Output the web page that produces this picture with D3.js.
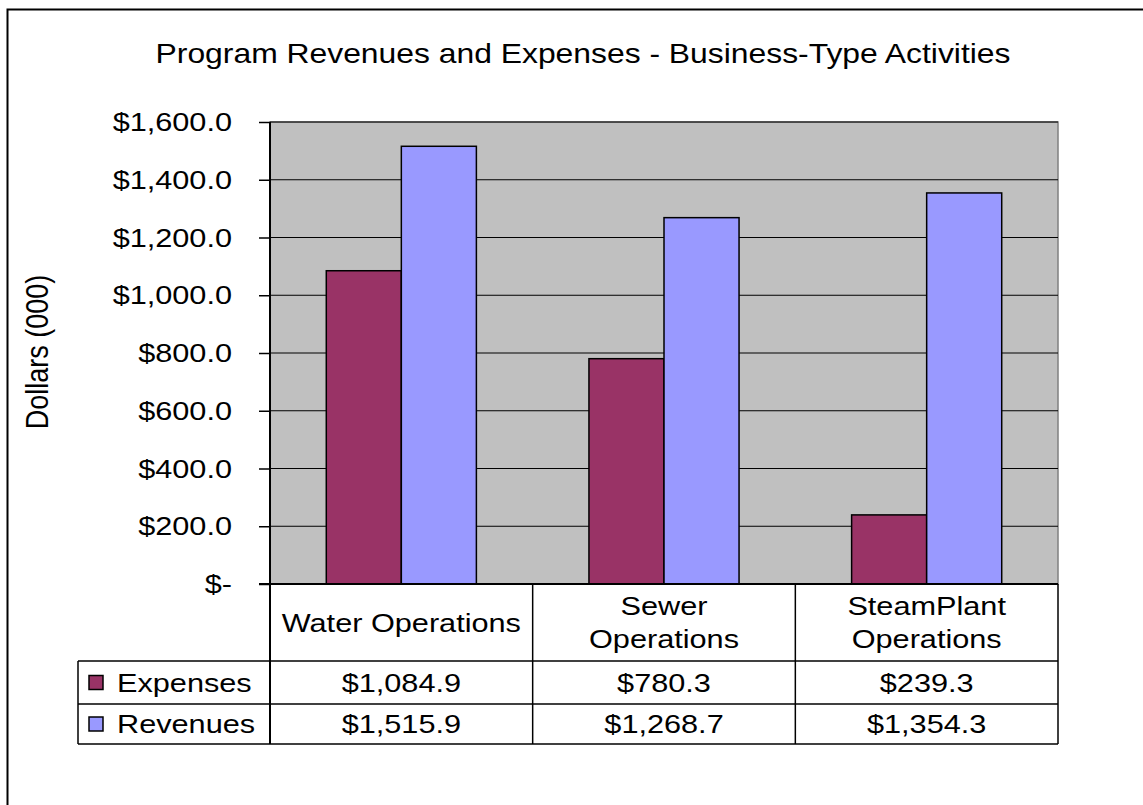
<!DOCTYPE html>
<html>
<head>
  <title>Program Revenues and Expenses</title>
  <style>
    body { margin: 0; background: #fff; }
    svg text { font-family: Arial, "Liberation Sans", sans-serif; fill: #000; }
  </style>
  <script src="https://d3js.org/d3.v7.min.js"></script>
</head>
<body>
  <div id="chart"></div>
  <script>
    const categories = [["Water Operations"], ["Sewer", "Operations"], ["SteamPlant", "Operations"]];
    const seriesNames = ["Expenses", "Revenues"];
    const expenses = [1084.9, 780.3, 239.3];
    const revenues = [1515.9, 1268.7, 1354.3];
    const tickValues = [0, 200, 400, 600, 800, 1000, 1200, 1400, 1600];
    const colors = ["#993366", "#9999FF"];

    const W = 1143, H = 805;
    const svg = d3.select("#chart").append("svg").attr("width", W).attr("height", H);
    const SX = 1.18, FS = 26;

    // stretched text helper (the reference text is wide)
    function label(x, y, str, anchor, size) {
      return svg.append("text")
        .attr("transform", `translate(${x},${y}) scale(${SX},1)`)
        .attr("text-anchor", anchor || "middle")
        .attr("font-size", (size || FS) + "px")
        .text(str);
    }

    // outer frame (only left/top visible)
    svg.append("path").attr("d", "M7.5,805 L7.5,9.5 L1143,9.5")
      .attr("fill", "none").attr("stroke", "#000").attr("stroke-width", 2);

    const plot = { left: 270, right: 1058, top: 122, bottom: 584 };
    const rows = [584, 661, 704, 744];
    const legendLeft = 78;

    const x0 = d3.scaleBand().domain(d3.range(categories.length))
      .range([plot.left, plot.right]);
    const x1 = d3.scaleBand().domain(d3.range(seriesNames.length))
      .range([0, x0.bandwidth()]).paddingOuter(0.75).paddingInner(0);
    const y = d3.scaleLinear().domain([0, 1600]).range([plot.bottom, plot.top]);

    // plot background
    svg.append("rect").attr("x", plot.left).attr("y", plot.top)
      .attr("width", plot.right - plot.left).attr("height", plot.bottom - plot.top)
      .attr("fill", "#C0C0C0").attr("stroke", "#808080").attr("stroke-width", 1.5);

    // gridlines
    svg.append("g").selectAll("line").data(tickValues.slice(1)).join("line")
      .attr("x1", plot.left).attr("x2", plot.right)
      .attr("y1", d => y(d)).attr("y2", d => y(d))
      .attr("stroke", "#000").attr("stroke-width", 1);

    // bars
    const series = [expenses, revenues];
    series.forEach((vals, si) => {
      svg.append("g").selectAll("rect").data(vals).join("rect")
        .attr("x", (d, i) => x0(i) + x1(si))
        .attr("y", d => y(d))
        .attr("width", x1.bandwidth())
        .attr("height", d => y(0) - y(d))
        .attr("fill", colors[si])
        .attr("stroke", "#000").attr("stroke-width", 1.5);
    });

    // y axis
    const yAxis = svg.append("g").attr("transform", `translate(${plot.left},0)`)
      .call(d3.axisLeft(y).tickValues(tickValues).tickSize(11).tickFormat(() => ""));
    yAxis.select(".domain").remove();
    yAxis.selectAll("line").attr("stroke", "#000").attr("stroke-width", 1.5);
    tickValues.forEach(v => {
      const s = v === 0 ? "$-" : "$" + d3.format(",.1f")(v);
      label(232, y(v) + 9, s, "end");
    });

    // axis label
    svg.append("text")
      .attr("transform", `translate(48,352) rotate(-90) scale(1,${SX})`)
      .attr("text-anchor", "middle").attr("font-size", "27px")
      .text("Dollars (000)");

    // title
    label(583, 63, "Program Revenues and Expenses - Business-Type Activities", "middle", 27);

    // data table
    const tbl = svg.append("g").attr("stroke", "#000").attr("stroke-width", 1.5).attr("fill", "none");
    tbl.append("line").attr("x1", plot.left - 11).attr("x2", plot.right)
      .attr("y1", rows[0]).attr("y2", rows[0]).attr("stroke-width", 2);
    [rows[1], rows[2], rows[3]].forEach(r => {
      tbl.append("line").attr("x1", legendLeft).attr("x2", plot.right).attr("y1", r).attr("y2", r);
    });
    tbl.append("line").attr("x1", plot.left).attr("x2", plot.left).attr("y1", plot.top).attr("y2", rows[3]).attr("stroke-width", 2);
    tbl.append("line").attr("x1", legendLeft).attr("x2", legendLeft).attr("y1", rows[1]).attr("y2", rows[3]);
    d3.range(1, categories.length + 1).forEach(i => {
      const xx = i < categories.length ? x0(i) : plot.right;
      tbl.append("line").attr("x1", xx).attr("x2", xx).attr("y1", rows[0]).attr("y2", rows[3]);
    });

    // category labels
    categories.forEach((lines, i) => {
      const cx = x0(i) + x0.bandwidth() / 2;
      const mid = (rows[0] + rows[1]) / 2;
      const lh = 33;
      lines.forEach((ln, k) => {
        const yy = mid + (k - (lines.length - 1) / 2) * lh + 9;
        label(cx, yy, ln, "middle", 26);
      });
    });

    // legend keys and values
    series.forEach((vals, si) => {
      const mid = (rows[si + 1] + rows[si + 2]) / 2;
      svg.append("rect").attr("x", 89).attr("y", mid - 7).attr("width", 14).attr("height", 14)
        .attr("fill", colors[si]).attr("stroke", "#000").attr("stroke-width", 1.5);
      label(117, mid + 9, seriesNames[si], "start", 26);
      vals.forEach((v, i) => {
        label(x0(i) + x0.bandwidth() / 2, mid + 9, "$" + d3.format(",.1f")(v), "middle", 26);
      });
    });
  </script>
</body>
</html>
